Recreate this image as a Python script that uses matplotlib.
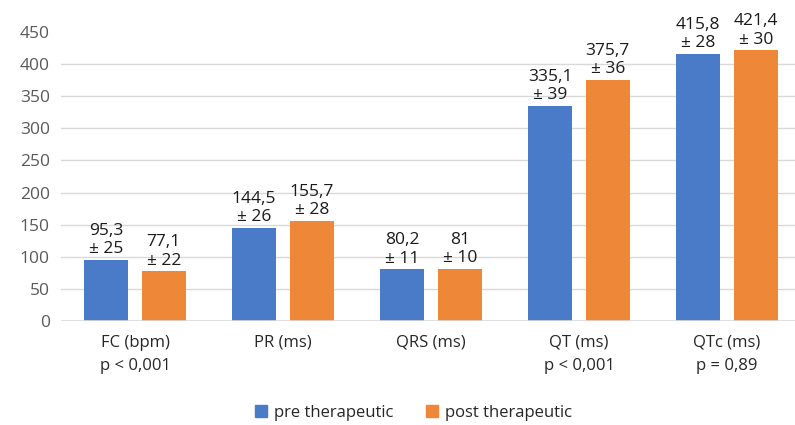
import numpy as np
import matplotlib
matplotlib.use('Agg')
import matplotlib.pyplot as plt
from matplotlib.patches import Patch

plt.rcParams['font.family'] = ['Open Sans', 'DejaVu Sans']

categories = ['FC (bpm)\np < 0,001', 'PR (ms)', 'QRS (ms)', 'QT (ms)\np < 0,001', 'QTc (ms)\np = 0,89']
pre_mean = [95.3, 144.5, 80.2, 335.1, 415.8]
pre_sd = [25, 26, 11, 39, 28]
post_mean = [77.1, 155.7, 81, 375.7, 421.4]
post_sd = [22, 28, 10, 36, 30]
series_names = ['pre therapeutic', 'post therapeutic']

blue = '#4A7BC9'
orange = '#EE8838'

fig = plt.figure(figsize=(7.95, 4.25), dpi=100)
ax = fig.add_axes([61 / 795, 1 - 321 / 425, 1 - 61 / 795, (321 - 32) / 425])

x = np.arange(len(categories))
w = 0.30
off = 0.195
b1 = ax.bar(x - off, pre_mean, w, color=blue, zorder=3)
b2 = ax.bar(x + off, post_mean, w, color=orange, zorder=3)


def fmt(v):
    s = ('%.1f' % v).rstrip('0').rstrip('.')
    return s.replace('.', ',')


for bars, means, sds in [(b1, pre_mean, pre_sd), (b2, post_mean, post_sd)]:
    for bar, m, sd in zip(bars, means, sds):
        ax.annotate(fmt(m) + '\n± ' + str(sd),
                    (bar.get_x() + bar.get_width() / 2, m),
                    xytext=(0, 2), textcoords='offset points',
                    ha='center', va='bottom', fontsize=12.5,
                    color='#1a1a1a', linespacing=1.2)

ax.set_xlim(-0.5, 4.46)
ax.set_ylim(0, 450)
ax.set_yticks(range(0, 451, 50))
for yv in range(50, 401, 50):
    ax.axhline(yv, color='#d9d9d9', lw=1, zorder=0)
ax.axhline(0, color='#d9d9d9', lw=1.2, zorder=4)

for s in ax.spines.values():
    s.set_visible(False)
ax.tick_params(axis='y', length=0, labelsize=12.5, labelcolor='#595959', pad=8)
ax.tick_params(axis='x', length=0, labelsize=12, labelcolor='#262626', pad=10)
ax.set_xticks(x)
ax.set_xticklabels(categories, linespacing=1.6, va='top')

handles = [Patch(color=blue), Patch(color=orange)]
fig.legend(handles, series_names, loc='lower center', ncol=2, frameon=False,
           bbox_to_anchor=(0.52, -0.025), fontsize=12, handlelength=0.7,
           handleheight=0.7, handletextpad=0.4, columnspacing=2.0,
           labelcolor='#262626')

fig.savefig('out.png', dpi=100)
